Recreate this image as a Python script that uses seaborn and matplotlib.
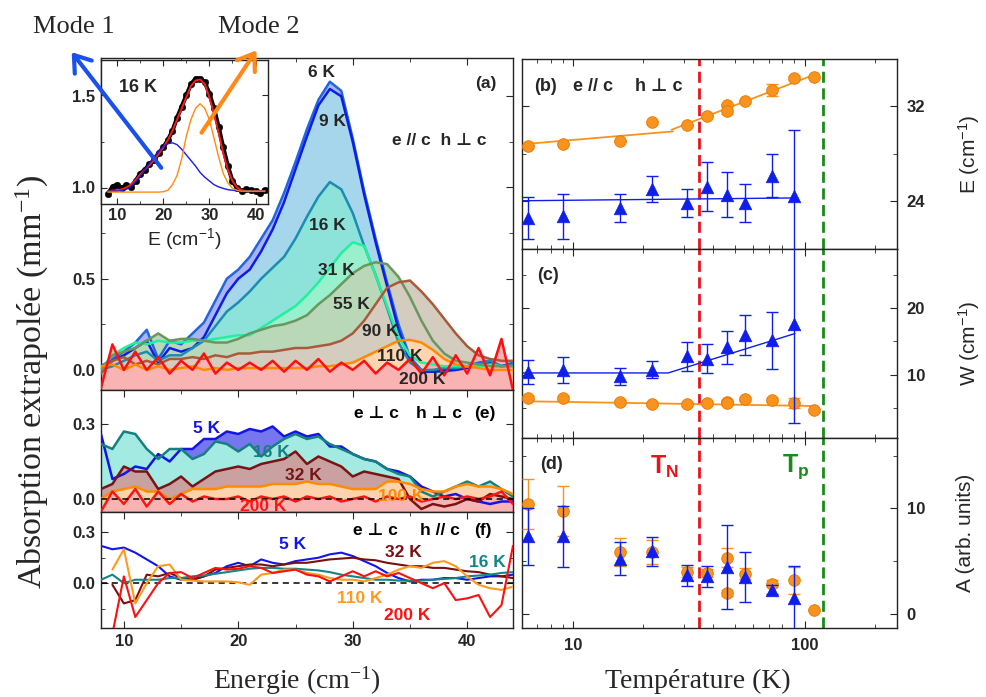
import matplotlib
matplotlib.use("Agg")
import matplotlib.pyplot as plt
from matplotlib.patches import FancyArrowPatch
from matplotlib.ticker import FixedLocator, FixedFormatter, LogLocator, NullFormatter
import numpy as np
import seaborn as sns

nan = float("nan")

# Energy grid (cm-1) shared by all the spectra.
energy = list(range(8, 45))

# (a) e // c, h perp c
a_6k = [0.02, 0.06, 0.10, 0.15, 0.22, 0.06, 0.16, 0.14, 0.20, 0.26, 0.38, 0.50, 0.55, 0.62, 0.72, 0.82, 0.97, 1.14, 1.32,
        1.48, 1.58, 1.53, 1.27, 0.98, 0.72, 0.48, 0.25, 0.07, 0.00, -0.01, -0.01, 0.00, 0.02, 0.04, 0.05, 0.02, 0.04]
a_9k = [0.00, 0.05, 0.08, 0.12, 0.16, 0.04, 0.12, 0.10, 0.12, 0.18, 0.30, 0.42, 0.50, 0.55, 0.65, 0.77, 0.92, 1.10, 1.28,
        1.45, 1.54, 1.50, 1.25, 0.96, 0.70, 0.46, 0.22, 0.05, -0.01, -0.01, 0.00, 0.00, 0.01, 0.03, 0.04, 0.02, 0.03]
a_16k = [0.00, 0.02, 0.05, 0.08, 0.10, 0.05, 0.08, 0.08, 0.12, 0.16, 0.24, 0.32, 0.37, 0.43, 0.50, 0.56, 0.62, 0.72, 0.84,
         0.95, 1.03, 0.99, 0.86, 0.68, 0.52, 0.34, 0.15, 0.04, 0.00, 0.00, 0.01, 0.01, 0.02, 0.03, 0.05, 0.02, 0.03]
a_31k = [0.00, 0.08, 0.12, 0.15, 0.14, 0.16, 0.15, 0.15, 0.16, 0.16, 0.17, 0.18, 0.19, 0.19, 0.23, 0.27, 0.31, 0.35, 0.41,
         0.48, 0.56, 0.64, 0.70, 0.68, 0.52, 0.35, 0.18, 0.08, 0.04, 0.03, 0.02, 0.02, 0.02, 0.02, 0.03, 0.02, 0.02]
a_55k = [0.00, 0.08, 0.10, 0.12, 0.16, 0.20, 0.16, 0.17, 0.17, 0.16, 0.15, 0.15, 0.17, 0.20, 0.22, 0.24, 0.25, 0.27, 0.30,
         0.36, 0.41, 0.47, 0.53, 0.57, 0.59, 0.58, 0.51, 0.40, 0.27, 0.16, 0.09, 0.05, 0.04, 0.03, 0.02, 0.02, 0.02]
a_90k = [-0.02, 0.05, 0.07, 0.03, 0.05, 0.03, 0.06, 0.06, 0.07, 0.06, 0.08, 0.07, 0.09, 0.09, 0.10, 0.10, 0.11, 0.12, 0.12,
         0.13, 0.14, 0.16, 0.20, 0.27, 0.36, 0.45, 0.48, 0.49, 0.43, 0.36, 0.28, 0.20, 0.13, 0.08, 0.06, 0.05, 0.05]
a_110k = [0.02, 0.03, 0.00, 0.03, 0.00, 0.02, 0.00, 0.01, 0.02, 0.00, 0.01, 0.00, 0.01, 0.01, 0.01, 0.01, 0.01, 0.01, 0.01,
          0.02, 0.02, 0.03, 0.04, 0.07, 0.10, 0.13, 0.16, 0.165, 0.15, 0.11, 0.06, 0.03, 0.02, 0.01, 0.00, 0.00, 0.00]
a_200k = [-0.10, 0.14, 0.00, 0.10, 0.00, 0.07, -0.02, 0.05, 0.00, 0.09, -0.02, 0.04, 0.00, 0.04, 0.00, 0.05, -0.01, 0.05,
          0.00, 0.06, -0.01, 0.04, 0.00, 0.05, -0.02, 0.04, 0.00, 0.06, -0.02, 0.07, -0.03, 0.08, -0.02, 0.12, -0.03,
          0.17, -0.11]

# (e) e perp c, h perp c
e_5k = [0.26, 0.08, 0.10, 0.13, 0.12, 0.18, 0.15, 0.20, 0.20, 0.24, 0.24, 0.27, 0.26, 0.28, 0.27, 0.29, 0.25, 0.27, 0.25,
        0.26, 0.21, 0.21, 0.18, 0.16, 0.15, 0.12, 0.11, 0.09, 0.05, 0.03, 0.01, 0.02, 0.00, -0.01, -0.02, -0.01, -0.01]
e_16k = [0.22, 0.20, 0.27, 0.26, 0.20, 0.16, 0.20, 0.20, 0.16, 0.18, 0.23, 0.22, 0.19, 0.22, 0.17, 0.21, 0.24, 0.26, 0.24,
         0.25, 0.22, 0.20, 0.18, 0.16, 0.15, 0.12, 0.10, 0.09, 0.03, 0.01, 0.03, 0.05, 0.07, 0.05, 0.07, 0.04, 0.01]
e_32k = [0.04, 0.06, 0.13, 0.11, 0.11, 0.04, 0.06, 0.09, 0.05, 0.08, 0.11, 0.12, 0.13, 0.12, 0.14, 0.15, 0.16, 0.19, 0.14,
         0.17, 0.15, 0.13, 0.09, 0.11, 0.10, 0.09, 0.08, 0.00, -0.04, -0.02, -0.03, -0.02, 0.00, -0.01, 0.02, 0.01, 0.00]
e_100k = [0.00, 0.03, 0.04, 0.05, 0.03, 0.03, 0.00, 0.02, 0.04, 0.04, 0.04, 0.05, 0.05, 0.05, 0.05, 0.06, 0.06, 0.06, 0.07,
          0.06, 0.06, 0.05, 0.04, 0.04, 0.04, 0.07, 0.07, 0.06, 0.04, 0.03, 0.03, 0.05, 0.06, 0.05, 0.05, 0.04, 0.02]
e_200k = [-0.05, 0.03, -0.02, 0.04, -0.03, 0.03, -0.02, 0.02, -0.01, 0.01, 0.00, 0.00, 0.01, -0.01, 0.01, 0.00, 0.01,
          -0.01, 0.01, 0.00, 0.01, -0.01, 0.00, 0.01, -0.01, 0.01, 0.00, 0.01, -0.01, 0.00, 0.01, 0.00, 0.01, 0.00, 0.01,
          0.03, -0.02]

# (f) e perp c, h // c
f_5k = [0.22, 0.20, 0.21, 0.18, 0.14, 0.10, 0.04, 0.02, 0.02, 0.04, 0.06, 0.10, 0.12, 0.10, 0.14, 0.12, 0.11, 0.13, 0.14,
        0.15, 0.17, 0.18, 0.16, 0.13, 0.10, 0.06, 0.03, 0.01, 0.02, 0.02, 0.03, 0.03, 0.02, 0.03, 0.04, 0.04, 0.05]
f_32k = [nan, -0.01, -0.12, -0.10, 0.05, 0.04, 0.06, 0.03, 0.02, 0.04, 0.08, 0.09, 0.10, 0.11, 0.11, 0.10, 0.11, 0.12, 0.12,
         0.13, 0.14, 0.145, 0.15, 0.14, 0.135, 0.12, 0.11, 0.10, 0.10, 0.09, 0.09, 0.08, 0.07, 0.065, 0.05, 0.04, 0.03]
f_16k = [0.02, 0.05, 0.00, 0.02, 0.02, 0.02, 0.03, 0.03, 0.04, 0.045, 0.055, 0.065, 0.075, 0.085, 0.09, 0.09, 0.085, 0.085,
         0.08, 0.075, 0.065, 0.05, 0.04, 0.03, 0.02, 0.02, 0.015, 0.015, 0.015, 0.02, 0.025, 0.03, 0.04, 0.045, 0.05, 0.06,
         0.065]
f_110k = [nan, 0.08, 0.20, -0.12, 0.00, 0.10, 0.11, 0.02, 0.015, 0.01, 0.01, 0.01, 0.005, -0.01, 0.05, 0.06, 0.08, 0.08,
          0.06, 0.05, 0.03, 0.02, 0.02, 0.01, 0.03, 0.05, 0.08, 0.10, 0.09, 0.12, 0.13, 0.10, 0.04, -0.01, -0.03, -0.04,
          -0.02]
f_200k = [nan, -0.30, 0.04, -0.20, -0.10, 0.00, 0.06, 0.065, 0.03, 0.06, 0.09, 0.08, 0.085, 0.10, 0.09, 0.06, 0.07, 0.08,
          0.05, 0.04, 0.01, 0.04, 0.07, 0.04, 0.07, 0.04, 0.06, 0.03, 0.00, -0.03, 0.00, -0.10, -0.09, -0.07, -0.20, -0.13,
          0.22]

# Inset: 16 K spectrum, total fit and the two modes.
inset_energy = list(range(8, 43))
ins_data = [0.97, 1.01, 1.02, 1.00, 1.02, 1.01, 1.04, 1.08, 1.10, 1.13, 1.15, 1.19, 1.22, 1.26, 1.31, 1.38, 1.44, 1.50,
            1.56, 1.59, 1.59, 1.57, 1.51, 1.43, 1.33, 1.22, 1.12, 1.04, 1.00, 0.985, 0.995, 0.99, 0.985, 0.975, 0.99]
ins_fit = [0.985, 0.988, 0.99, 0.995, 1.005, 1.02, 1.045, 1.075, 1.10, 1.125, 1.152, 1.185, 1.22, 1.26, 1.31, 1.37, 1.43,
           1.49, 1.55, 1.58, 1.585, 1.56, 1.49, 1.40, 1.30, 1.19, 1.10, 1.04, 1.005, 0.99, 0.985, 0.985, 0.985, 0.985,
           0.985]
ins_mode1 = [0.985, 0.985, 0.985, 0.988, 0.995, 1.01, 1.035, 1.065, 1.10, 1.135, 1.17, 1.20, 1.225, 1.24, 1.245, 1.235,
             1.21, 1.18, 1.15, 1.12, 1.085, 1.06, 1.04, 1.02, 1.008, 1.00, 0.993, 0.99, 0.987, 0.985, 0.985, 0.985,
             0.985, 0.985, 0.985]
ins_mode2 = [0.98, 0.98, 0.98, 0.98, 0.98, 0.98, 0.98, 0.98, 0.98, 0.98, 0.98, 0.98, 0.982, 0.99, 1.02, 1.07, 1.16, 1.28,
             1.37, 1.43, 1.455, 1.43, 1.37, 1.27, 1.17, 1.08, 1.03, 1.00, 0.99, 0.985, 0.985, 0.985, 0.985, 0.985, 0.985]

# Fit parameters vs temperature (K). Mode 2 = orange circles, mode 1 = blue triangles.
temp_mode2 = [6.4, 9, 16, 22, 31, 38, 46, 46, 55, 72, 90, 110]
E_mode2 = [28.63, 28.83, 29.1, 30.65, 30.46, 31.2, 32.14, 31.58, 32.42, 33.4, 34.4, 34.5]
E_mode2_err = [0.1, 0.1, 0.1, 0.1, 0.1, 0.1, 0.1, 0.2, 0.1, 0.5, 0.2, 0.1]
W_mode2 = [6.5, 6.45, 5.85, 5.6, 5.6, 5.7, 5.8, 5.7, 6.36, 6.1, 5.7, 4.6]
W_mode2_err = [0.3, 0.3, 0.3, 0.3, 0.3, 0.3, 0.3, 0.3, 0.3, 0.3, 0.8, 0.2]
A_mode2 = [10.41, 9.74, 5.87, 5.87, 3.96, 3.87, 5.3, 1.96, 3.8, 2.86, 3.17, 0.31]
A_mode2_err = [2.4, 2.4, 1.3, 1.1, 0.5, 0.4, 0.9, 0.3, 0.5, 0.3, 1.3, 0.1]

temp_mode1 = [6.4, 9, 16, 22, 31, 38, 46, 55, 72, 90]
E_mode1 = [22.6, 22.74, 23.44, 25.04, 23.86, 25.26, 24.56, 23.9, 26.16, 24.42]
E_mode1_err = [1.8, 1.9, 1.2, 1.1, 1.2, 2.1, 1.9, 1.6, 1.8, 5.6]
W_mode1 = [10.4, 10.65, 9.74, 10.76, 12.77, 12.4, 14.1, 15.95, 15.2, 17.6]
W_mode1_err = [1.8, 2.0, 1.3, 1.3, 2.2, 2.2, 2.5, 3.0, 4.3, 15.0]
A_mode1 = [7.36, 7.36, 5.24, 5.93, 3.65, 3.58, 4.44, 3.5, 2.29, 1.52]
A_mode1_err = [2.7, 2.9, 1.6, 1.4, 1.0, 1.0, 4.0, 2.4, 0.4, 3.0]

# Guide lines (end points of the straight segments).
E2_fit_low_T, E2_fit_low = [6.4, 27.0], [28.86, 29.9]
E2_fit_high_T, E2_fit_high = [26.6, 114.0], [30.04, 34.8]
E1_fit_T, E1_fit = [6.0, 93.0], [24.06, 24.3]
W1_fit_T, W1_fit = [6.0, 25.7, 90.6], [10.24, 10.24, 16.2]
W2_fit_T, W2_fit = [6.4, 110.0], [5.95, 5.24]

T_N = 35
T_p = 120

# ---------------------------------------------------------------------------
sns.set_style("ticks")
plt.rcParams["font.family"] = ["Liberation Sans", "DejaVu Sans"]
plt.rcParams["font.weight"] = "bold"
plt.rcParams["mathtext.default"] = "regular"
plt.rcParams["axes.linewidth"] = 1.0
plt.rcParams["axes.edgecolor"] = "#222222"
SERIF = ["Liberation Serif", "DejaVu Serif"]

ORANGE = "#f7931e"
BLUE = "#0f1ee8"

fig = plt.figure(figsize=(9.87, 6.97), dpi=100)
ax_a = fig.add_axes([0.1023, 0.4405, 0.4174, 0.4763])
ax_e = fig.add_axes([0.1023, 0.2654, 0.4174, 0.1751])
ax_f = fig.add_axes([0.1023, 0.0990, 0.4174, 0.1664])
ax_b = fig.add_axes([0.5286, 0.6428, 0.3802, 0.2726])
ax_c = fig.add_axes([0.5286, 0.3716, 0.3802, 0.2712])
ax_d = fig.add_axes([0.5286, 0.0990, 0.3802, 0.2726])
ax_in = fig.add_axes([0.1023, 0.7073, 0.1692, 0.2066])


def draw_spectra(ax, curves, ybottom, lw):
    for y, line_col, fill_col in curves:
        if fill_col:
            ax.fill_between(energy, y, ybottom, color=fill_col, lw=0, zorder=1)
    for y, line_col, fill_col in curves:
        sns.lineplot(x=energy, y=y, color=line_col, lw=lw, ax=ax, zorder=3, legend=False)


def style_left(ax, ylim, major, labels, minor, show_x):
    ax.set_xlim(8, 44)
    ax.set_ylim(*ylim)
    ax.set_xticks([10, 20, 30, 40])
    ax.set_xticks([15, 25, 35], minor=True)
    ax.set_yticks(major)
    ax.set_yticklabels(labels)
    ax.set_yticks(minor, minor=True)
    ax.tick_params(which="both", direction="in", top=True, right=True, labelsize=12, pad=4)
    ax.tick_params(which="major", length=5)
    ax.tick_params(which="minor", length=3)
    if not show_x:
        ax.set_xticklabels([])
    ax.set_xlabel("")
    ax.set_ylabel("")


# (a)
ya = (-0.11, 1.71)
draw_spectra(ax_a, [(a_6k, "#2266dd", "#aab4f0"), (a_9k, "#0c1ee6", "#a6d6ec"),
                    (a_16k, "#1c8cb0", "#8de3da"), (a_31k, "#22f0a0", "#98f0cc"),
                    (a_55k, "#6a9660", "#b8d8b8"), (a_90k, "#a85a3a", "#d4cdbf"),
                    (a_110k, "#ff8a00", "#fdd6b0"), (a_200k, "#ff0f0f", "#f9b3b3")], ya[0], 1.8)
style_left(ax_a, ya, [0, 0.5, 1.0, 1.5], ["0.0", "0.5", "1.0", "1.5"], [0.25, 0.75, 1.25], False)
for txt, x, y in [("6 K", 27.3, 1.63), ("9 K", 28.2, 1.36), ("16 K", 27.8, 0.79), ("31 K", 28.6, 0.545),
                  ("55 K", 29.9, 0.36), ("90 K", 32.4, 0.21), ("110 K", 34.1, 0.073), ("200 K", 36.1, -0.05),
                  ("e // c  h \u22a5 c", 37.6, 1.26), ("(a)", 41.6, 1.57)]:
    ax_a.text(x, y, txt, ha="center", va="center", fontsize=12.5, zorder=5)

# (e)
ye = (-0.052, 0.436)
draw_spectra(ax_e, [(e_5k, "#1414e6", "#7676ee"), (e_16k, "#168080", "#a2eae2"),
                    (e_32k, "#7a1414", "#c9a1a1"), (e_100k, "#ff8c00", "#fdd3ae"),
                    (e_200k, "#ff1414", "#f8b3b3")], ye[0], 1.8)
ax_e.axhline(0, color="black", ls=(0, (4, 3)), lw=1.1, zorder=4)
style_left(ax_e, ye, [0, 0.3], ["0.0", "0.3"], [0.15], False)
for txt, x, y, c in [("5 K", 17.2, 0.28, "#1414e6"), ("16 K", 22.9, 0.184, "#168080"), ("32 K", 25.7, 0.096, "#7a1414"),
                     ("100 K", 34.2, 0.009, "#ff8c00"), ("200 K", 22.2, -0.028, "#ff1414"),
                     ("e \u22a5 c", 32.1, 0.343, "black"), ("h \u22a5 c", 37.5, 0.343, "black"),
                     ("(e)", 41.5, 0.343, "black")]:
    ax_e.text(x, y, txt, ha="center", va="center", fontsize=12.5, color=c, zorder=5)

# (f)
yf = (-0.265, 0.42)
draw_spectra(ax_f, [(f_5k, "#1414f0", None), (f_32k, "#7a1010", None), (f_16k, "#138585", None),
                    (f_110k, "#ff9a1e", None), (f_200k, "#ff1010", None)], yf[0], 1.5)
ax_f.axhline(0, color="black", ls=(0, (4, 3)), lw=1.1, zorder=2)
style_left(ax_f, yf, [0, 0.3], ["0.0", "0.3"], [-0.15, 0.15], True)
for txt, x, y, c in [("5 K", 24.7, 0.23, "#1414f0"), ("32 K", 34.4, 0.18, "#7a1010"), ("16 K", 41.8, 0.12, "#138585"),
                     ("110 K", 30.6, -0.09, "#ff9a1e"), ("200 K", 34.8, -0.19, "#ff1010"),
                     ("e \u22a5 c", 32.0, 0.31, "black"), ("h // c", 37.6, 0.31, "black"),
                     ("(f)", 41.4, 0.31, "black")]:
    ax_f.text(x, y, txt, ha="center", va="center", fontsize=12.5, color=c, zorder=5)

# inset
sns.lineplot(x=inset_energy, y=ins_data, color="black", lw=3.0, ax=ax_in, legend=False)
sns.scatterplot(x=inset_energy, y=ins_data, color="black", s=22, edgecolor="black", ax=ax_in, legend=False)
sns.lineplot(x=inset_energy, y=ins_fit, color="#ff1a1a", lw=1.4, ax=ax_in, legend=False)
sns.lineplot(x=inset_energy, y=ins_mode1, color="#1a1aee", lw=1.0, ax=ax_in, legend=False)
sns.lineplot(x=inset_energy, y=ins_mode2, color="#ff8a10", lw=1.0, ax=ax_in, legend=False)
ax_in.set_xlim(6.5, 42.7)
ax_in.set_ylim(0.916, 1.69)
ax_in.set_xticks([10, 20, 30, 40])
ax_in.set_xticks([15, 25, 35], minor=True)
ax_in.set_yticks([1.0, 1.5])
ax_in.set_yticks([1.25], minor=True)
ax_in.tick_params(which="both", direction="in", top=True, right=True, labelleft=False, labelsize=12, pad=3)
ax_in.tick_params(which="major", length=4)
ax_in.tick_params(which="minor", length=2.5)
ax_in.set_ylabel("")
ax_in.set_xlabel("E (cm$^{-1}$)", fontsize=14, fontweight="normal", labelpad=2)
ax_in.text(0.22, 0.81, "16 K", transform=ax_in.transAxes, ha="center", va="center", fontsize=13)

# Mode arrows and labels
fig.add_artist(FancyArrowPatch((0.1651, 0.7561), (0.0709, 0.9283), transform=fig.transFigure,
                               arrowstyle="->,head_length=0.5,head_width=0.35", mutation_scale=22,
                               color="#1a50ee", lw=3, zorder=10))
fig.add_artist(FancyArrowPatch((0.2026, 0.8063), (0.2614, 0.9311), transform=fig.transFigure,
                               arrowstyle="->,head_length=0.5,head_width=0.35", mutation_scale=22,
                               color="#ff8a1a", lw=3, zorder=10))
fig.text(0.075, 0.961, "Mode 1", ha="center", va="center", family=SERIF, fontsize=19, fontweight="normal")
fig.text(0.262, 0.961, "Mode 2", ha="center", va="center", family=SERIF, fontsize=19, fontweight="normal")


# right column
def draw_params(ax, o_val, o_err, b_val, b_err):
    ax.set_xscale("log")
    ax.errorbar(temp_mode2, o_val, yerr=o_err, fmt="none", ecolor=ORANGE, elinewidth=1, capsize=4, zorder=3)
    sns.scatterplot(x=temp_mode2, y=o_val, ax=ax, color=ORANGE, s=70, edgecolor="#e87800", linewidth=0.6,
                    zorder=4, legend=False)
    ax.errorbar(temp_mode1, b_val, yerr=b_err, fmt="none", ecolor=BLUE, elinewidth=1, capsize=4, zorder=5)
    sns.scatterplot(x=temp_mode1, y=b_val, ax=ax, color=BLUE, marker="^", s=82, edgecolor=BLUE, linewidth=0.5,
                    zorder=6, legend=False)
    ax.axvline(T_N, color="#e8141c", ls=(0, (4, 2)), lw=2.0, zorder=2)
    ax.axvline(T_p, color="#1a8a1a", ls=(0, (4, 2)), lw=2.0, zorder=2)


def style_right(ax, ylim, major, minor, ylabel, show_x):
    ax.set_xlim(6, 250)
    ax.set_ylim(*ylim)
    ax.xaxis.set_major_locator(FixedLocator([10, 100]))
    ax.xaxis.set_minor_locator(LogLocator(base=10, subs=np.arange(2, 10) * 1.0))
    ax.xaxis.set_minor_formatter(NullFormatter())
    if show_x:
        ax.xaxis.set_major_formatter(FixedFormatter(["10", "100"]))
    else:
        ax.xaxis.set_major_formatter(NullFormatter())
    ax.set_yticks(major)
    ax.set_yticklabels([str(v) for v in major])
    ax.set_yticks(minor, minor=True)
    ax.yaxis.tick_right()
    ax.yaxis.set_label_position("right")
    ax.tick_params(which="both", direction="in", top=True, bottom=True, left=True, right=True,
                   labelleft=False, labelright=True, labelsize=12)
    ax.tick_params(axis="y", pad=7)
    ax.tick_params(axis="x", pad=7)
    ax.tick_params(which="major", length=5)
    ax.tick_params(which="minor", length=3)
    ax.set_xlabel("")
    ax.set_ylabel(ylabel, fontsize=15, fontweight="normal", labelpad=22)


draw_params(ax_b, E_mode2, E_mode2_err, E_mode1, E_mode1_err)
sns.lineplot(x=E2_fit_low_T, y=E2_fit_low, color=ORANGE, lw=1.3, ax=ax_b, zorder=2)
sns.lineplot(x=E2_fit_high_T, y=E2_fit_high, color=ORANGE, lw=1.3, ax=ax_b, zorder=2)
sns.lineplot(x=E1_fit_T, y=E1_fit, color=BLUE, lw=1.0, ax=ax_b, zorder=2)
style_right(ax_b, (20, 36), [24, 32], [28], "E (cm$^{-1}$)", False)
ax_b.text(0.063, 0.857, "(b)", transform=ax_b.transAxes, ha="center", va="center", fontsize=13)
ax_b.text(0.19, 0.857, "e // c", transform=ax_b.transAxes, ha="center", va="center", fontsize=13)
ax_b.text(0.364, 0.857, "h \u22a5 c", transform=ax_b.transAxes, ha="center", va="center", fontsize=13)

draw_params(ax_c, W_mode2, W_mode2_err, W_mode1, W_mode1_err)
sns.lineplot(x=W1_fit_T, y=W1_fit, color=BLUE, lw=1.0, ax=ax_c, zorder=2)
sns.lineplot(x=W2_fit_T, y=W2_fit, color=ORANGE, lw=1.3, ax=ax_c, zorder=2)
style_right(ax_c, (0.4, 29), [10, 20], [5, 15, 25], "W (cm$^{-1}$)", False)
ax_c.text(0.071, 0.858, "(c)", transform=ax_c.transAxes, ha="center", va="center", fontsize=13)

draw_params(ax_d, A_mode2, A_mode2_err, A_mode1, A_mode1_err)
style_right(ax_d, (-1.36, 16.7), [0, 10], [5, 15], "A (arb. units)", True)
ax_d.text(0.08, 0.863, "(d)", transform=ax_d.transAxes, ha="center", va="center", fontsize=13)
ax_d.text(0.38, 0.85, "T$_{N}$", transform=ax_d.transAxes, ha="center", va="center", fontsize=18,
          color="#e8141c")
ax_d.text(0.73, 0.85, "T$_{p}$", transform=ax_d.transAxes, ha="center", va="center", fontsize=18,
          color="#1a8a1a")

# axis titles
fig.text(0.033, 0.452, "Absorption extrapol\u00e9e (mm$^{-1}$)", rotation=90, ha="center", va="center",
         family=SERIF, fontsize=24.5, fontweight="normal")
fig.text(0.301, 0.024, "Energie (cm$^{-1}$)", ha="center", va="center", family=SERIF, fontsize=20,
         fontweight="normal")
fig.text(0.707, 0.022, "Temp\u00e9rature (K)", ha="center", va="center", family=SERIF, fontsize=20,
         fontweight="normal")

fig.savefig("out.png", dpi=100)
